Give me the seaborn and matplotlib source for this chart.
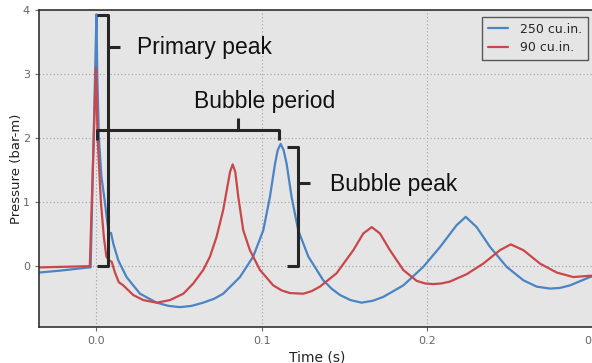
import numpy as np
import pandas as pd
import matplotlib
matplotlib.use("Agg")
import matplotlib.pyplot as plt
import seaborn as sns

# ---- data ----
t_250 = [-0.0347, -0.022, -0.0045, -0.0035, 0.0, 0.0005, 0.0015, 0.0030, 0.0051, 0.0065,
         0.0075, 0.0088, 0.0102, 0.0132, 0.0182, 0.0263, 0.0364, 0.0435, 0.0505, 0.0575,
         0.0645, 0.0710, 0.0766, 0.0867, 0.0947, 0.1008, 0.1048, 0.1079, 0.1095, 0.1113,
         0.1131, 0.1149, 0.1179, 0.1219, 0.1280, 0.1370, 0.1420, 0.1471, 0.1535, 0.1602,
         0.1670, 0.1733, 0.1854, 0.1975, 0.2076, 0.2176, 0.2231, 0.2297, 0.2378, 0.2478,
         0.2579, 0.2660, 0.2740, 0.2800, 0.2861, 0.2982, 0.3012]
p_250 = [-0.10, -0.07, -0.02, -0.02, 3.93, 3.00, 2.00, 1.40, 1.00, 0.70,
         0.50, 0.52, 0.35, 0.09, -0.17, -0.43, -0.57, -0.62, -0.64, -0.62,
         -0.57, -0.51, -0.43, -0.17, 0.15, 0.56, 1.08, 1.60, 1.81, 1.91,
         1.81, 1.60, 1.08, 0.56, 0.15, -0.22, -0.35, -0.45, -0.53, -0.57,
         -0.54, -0.48, -0.30, -0.01, 0.30, 0.64, 0.77, 0.61, 0.30, -0.01,
         -0.22, -0.32, -0.35, -0.34, -0.30, -0.17, -0.15]

t_90 = [-0.0347, -0.020, -0.0040, -0.0003, 0.0007, 0.0027, 0.0045, 0.0060, 0.0075, 0.0092,
        0.0112, 0.0135, 0.0162, 0.0182, 0.0222, 0.0283, 0.0364, 0.0444, 0.0525, 0.0585,
        0.0645, 0.0686, 0.0726, 0.0766, 0.0807, 0.0823, 0.0839, 0.0857, 0.0887, 0.0927,
        0.0988, 0.1068, 0.1120, 0.1169, 0.1250, 0.1300, 0.1350, 0.1451, 0.1552, 0.1612,
        0.1663, 0.1713, 0.1773, 0.1854, 0.1935, 0.1985, 0.2035, 0.2085, 0.2136, 0.2237,
        0.2337, 0.2438, 0.2503, 0.2579, 0.2680, 0.2781, 0.2881, 0.2982, 0.3012]
p_90 = [-0.02, -0.01, 0.00, 3.10, 2.00, 1.00, 0.45, 0.15, 0.09, 0.07,
        -0.10, -0.25, -0.30, -0.35, -0.45, -0.53, -0.57, -0.53, -0.43, -0.27,
        -0.06, 0.15, 0.46, 0.88, 1.47, 1.59, 1.47, 1.08, 0.56, 0.25,
        -0.06, -0.30, -0.38, -0.42, -0.43, -0.39, -0.32, -0.11, 0.25, 0.51,
        0.61, 0.51, 0.25, -0.06, -0.23, -0.27, -0.28, -0.27, -0.24, -0.125,
        0.04, 0.25, 0.34, 0.25, 0.04, -0.10, -0.17, -0.15, -0.15]

series_names = ["250 cu.in.", "90 cu.in."]
colors = ["#4a84c4", "#c9474b"]
x_ticks = [0.0, 0.1, 0.2, 0.3]
y_ticks = [0, 1, 2, 3, 4]

df = pd.DataFrame({
    "t": t_250 + t_90,
    "p": p_250 + p_90,
    "series": [series_names[0]] * len(t_250) + [series_names[1]] * len(t_90),
})

sns.set_theme(style="ticks")
plt.rcParams["font.family"] = ["DejaVu Sans"]

fig = plt.figure(figsize=(5.92, 3.63), dpi=100)
ax = fig.add_axes([39 / 592, 1 - 327 / 363, 556 / 592, 317 / 363])
ax.set_facecolor("#e5e5e5")

sns.lineplot(data=df, x="t", y="p", hue="series", palette=colors,
             estimator=None, sort=False, linewidth=1.6, ax=ax)
for ln in ax.get_lines():
    ln.set_solid_joinstyle("round")

ax.set_xlim(-0.0347, 0.3012)
ax.set_ylim(-0.95, 4.0)
ax.set_xticks(x_ticks)
ax.set_xticklabels([f"{v:.1f}" for v in x_ticks])
ax.set_yticks(y_ticks)
ax.set_yticklabels([str(v) for v in y_ticks])
ax.grid(True, linestyle=(0, (1, 2.2)), color="#a0a0a0", linewidth=0.8)
ax.set_axisbelow(True)
for s in ax.spines.values():
    s.set_color("#333333")
    s.set_linewidth(1.2)
ax.tick_params(axis="both", colors="#666666", labelsize=8, length=3, width=0.8,
               labelcolor="#666666")
ax.set_xlabel("Time (s)", fontsize=10, color="#222222", labelpad=3)
ax.set_ylabel("Pressure (bar-m)", fontsize=9.5, color="#222222", labelpad=0)

leg = ax.legend(loc="upper right", bbox_to_anchor=(0.9874, 0.978), borderaxespad=0,
                frameon=True, fancybox=False, fontsize=9, handlelength=1.6,
                borderpad=0.45, labelspacing=0.45, handletextpad=1.0)
leg.get_frame().set_edgecolor("#333333")
leg.get_frame().set_facecolor("#e5e5e5")
leg.get_frame().set_linewidth(1.0)
leg.set_title(None)

# ---- annotation brackets ----
bk = dict(color="#262626", linewidth=2.2, solid_capstyle="butt", clip_on=False, zorder=5)
# Primary peak bracket
ax.plot([0.0003, 0.0069, 0.0069, 0.0003], [3.92, 3.92, 0.0, 0.0], **bk)
ax.plot([0.0069, 0.0142], [3.42, 3.42], **bk)
# Bubble period bracket
ax.plot([0.0003, 0.0003, 0.1103, 0.1103], [1.97, 2.125, 2.125, 1.97], **bk)
ax.plot([0.0855, 0.0855], [2.125, 2.31], **bk)
# Bubble peak bracket
ax.plot([0.1151, 0.1218, 0.1218, 0.1151], [1.86, 1.86, 0.0, 0.0], **bk)
ax.plot([0.1218, 0.1290], [1.30, 1.30], **bk)

tf = dict(fontsize=16.5, family=["Liberation Sans", "DejaVu Sans"], color="#111111", va="baseline")
ax.text(0.0247, 3.32, "Primary peak", ha="left", **tf)
ax.text(0.1015, 2.47, "Bubble period", ha="center", **tf)
ax.text(0.1411, 1.17, "Bubble peak", ha="left", **tf)

fig.savefig("out.png", dpi=100)
